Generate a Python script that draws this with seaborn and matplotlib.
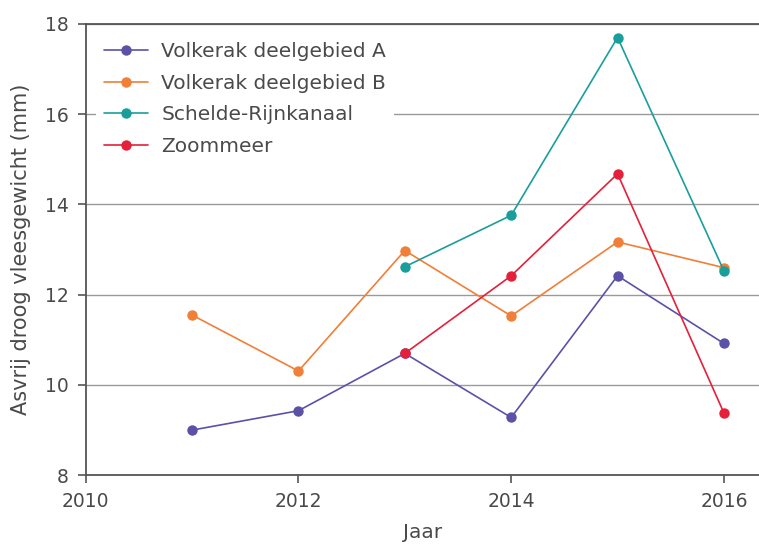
import seaborn as sns
import matplotlib.pyplot as plt
import pandas as pd
import numpy as np

# Data
years = [2011, 2012, 2013, 2014, 2015, 2016]
volkerak_a = [9.0, 9.43, 10.7, 9.28, 12.42, 10.92]
volkerak_b = [11.55, 10.31, 12.98, 11.53, 13.17, 12.6]
schelde = [np.nan, np.nan, 12.62, 13.76, 17.7, 12.53]
zoommeer = [np.nan, np.nan, 10.7, 12.42, 14.68, 9.38]
series_names = ["Volkerak deelgebied A", "Volkerak deelgebied B",
                "Schelde-Rijnkanaal", "Zoommeer"]
colors = ["#5b52a8", "#f07f38", "#1a9e9c", "#e4203a"]

frames = []
for name, vals in zip(series_names, [volkerak_a, volkerak_b, schelde, zoommeer]):
    frames.append(pd.DataFrame({"Jaar": years, "Waarde": vals, "Gebied": name}))
data = pd.concat(frames).dropna()

sns.set_style("white")
plt.rcParams['font.family'] = ['DejaVu Sans']
text_color = "#4a4a4a"

fig = plt.figure(figsize=(7.59, 5.45), dpi=100)
ax = fig.add_axes([0.113, 0.128, 0.887, 0.828])

sns.lineplot(data=data, x="Jaar", y="Waarde", hue="Gebied", hue_order=series_names,
             palette=dict(zip(series_names, colors)), marker="o", markersize=7.5,
             markeredgewidth=0, linewidth=1.2, ax=ax)

ax.set_xlim(2010, 2016.33)
ax.set_ylim(8, 18)
ax.set_xticks([2010, 2012, 2014, 2016])
ax.set_yticks([8, 10, 12, 14, 16, 18])
ax.yaxis.grid(True, color="#9a9a9a", linewidth=1.0)
ax.set_axisbelow(True)

for side in ["left", "bottom", "top"]:
    ax.spines[side].set_color("#555555")
    ax.spines[side].set_linewidth(1.3)
ax.spines["right"].set_visible(False)

ax.tick_params(axis="both", direction="out", length=6, width=1.2, color="#555555",
               labelsize=13.5, labelcolor=text_color, bottom=True, left=True, pad=6)
ax.set_xlabel("Jaar", fontsize=14.5, color=text_color, labelpad=9)
ax.set_ylabel("Asvrij droog vleesgewicht (mm)", fontsize=15, color=text_color, labelpad=10)

leg = ax.legend(loc="upper left", bbox_to_anchor=(0.0, 1.0), fontsize=14.5,
                frameon=True, facecolor="white", edgecolor="none", framealpha=1,
                handlelength=2.2, handletextpad=0.65, labelspacing=0.62,
                borderaxespad=0.5)
for t in leg.get_texts():
    t.set_color(text_color)

plt.savefig("out.png", dpi=100)
